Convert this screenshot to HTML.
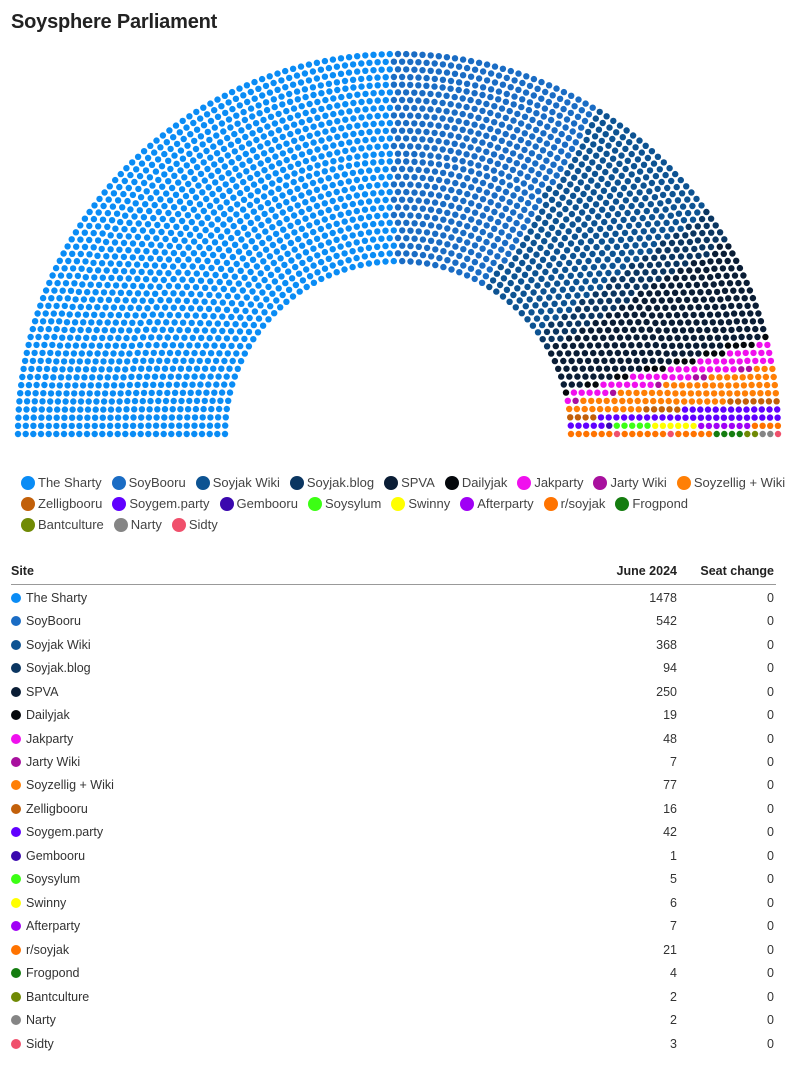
<!DOCTYPE html>
<html><head><meta charset="utf-8"><style>
body{margin:0;background:#fff;font-family:"Liberation Sans",sans-serif;color:#333;width:796px;height:1065px;overflow:hidden;position:relative}
h1{position:absolute;left:11px;top:11px;margin:0;font-size:20px;font-weight:bold;color:#222;letter-spacing:-0.2px}
#ch{position:absolute;left:0;top:0}
.lg{position:absolute;left:21px;top:472px;width:775px;font-size:13px;color:#444}
.lg div{display:flex;height:21px;align-items:center}
.lg span{display:flex;align-items:center;margin-right:10px;height:18px;white-space:nowrap}
.lg i{display:inline-block;width:14px;height:14px;border-radius:50%;margin-right:3px}
table{position:absolute;left:11px;top:563px;width:765px;border-collapse:collapse;font-size:12.5px;color:#333}
th{font-weight:bold;text-align:left;padding:0 2px 5px 0;border-bottom:1px solid #999;height:16px;color:#222}
td{height:21.47px;padding:2px 2px 0 0;box-sizing:content-box}
.r{text-align:right}
td i{display:inline-block;width:10px;height:10px;border-radius:50%;margin-right:5px;vertical-align:-1px}
</style></head><body>
<h1>Soysphere Parliament</h1>
<svg id="ch" width="796" height="460"></svg>
<div class="lg" id="lg"></div>
<table id="tb"><tr><th>Site</th><th class="r" style="width:120px">June 2024</th><th class="r" style="width:95px">Seat change</th></tr></table>
<script>
var P=[["The Sharty",1478,"#0a8cf5"],["SoyBooru",542,"#1a6cc4"],["Soyjak Wiki",368,"#0d5392"],["Soyjak.blog",94,"#0b3661"],["SPVA",250,"#0a1d35"],["Dailyjak",19,"#05080c"],["Jakparty",48,"#f010ee"],["Jarty Wiki",7,"#a8109e"],["Soyzellig + Wiki",77,"#ff7f05"],["Zelligbooru",16,"#c2600a"],["Soygem.party",42,"#6000ff"],["Gembooru",1,"#3a08ae"],["Soysylum",5,"#3cff14"],["Swinny",6,"#ffff00"],["Afterparty",7,"#a000f5"],["r/soyjak",21,"#ff7300"],["Frogpond",4,"#157d10"],["Bantculture",2,"#708a05"],["Narty",2,"#858585"],["Sidty",3,"#f0506c"]];
var total=0;P.forEach(p=>total+=p[1]);
var cx=398,cy=434,r0=173,r1=380,N=28,rs=[],sum=0;
for(var i=0;i<N;i++){rs.push(r0+i*(r1-r0)/(N-1));sum+=rs[i];}
var cnt=rs.map(r=>Math.floor(total*r/sum)),c=0;cnt.forEach(x=>c+=x);
for(var i=N-1;c<total;i--,c++)cnt[i]++;
var pts=[];
for(var i=0;i<N;i++){var n=cnt[i];for(var j=0;j<n;j++){var a=Math.PI-j*Math.PI/(n-1);pts.push([a,rs[i]]);}}
pts.sort((a,b)=>b[0]-a[0]||a[1]-b[1]);
var s="",k=0;
P.forEach(p=>{for(var j=0;j<p[1];j++,k++){var q=pts[k];s+='<circle cx="'+(cx+q[1]*Math.cos(q[0])).toFixed(1)+'" cy="'+(cy-q[1]*Math.sin(q[0])).toFixed(1)+'" r="3.2" fill="'+p[2]+'"/>';}});
document.getElementById("ch").innerHTML=s;
var rows=[[0,9],[9,17],[17,20]],l="",t="";
rows.forEach(rw=>{l+='<div>';for(var i=rw[0];i<rw[1];i++){var p=P[i];l+='<span><i style="background:'+p[2]+'"></i>'+p[0]+'</span>';}l+='</div>';});
P.forEach(p=>{t+='<tr><td><i style="background:'+p[2]+'"></i>'+p[0]+'</td><td class="r">'+p[1]+'</td><td class="r">0</td></tr>';});
document.getElementById("lg").innerHTML=l;
document.getElementById("tb").innerHTML+=t;
</script>
</body></html>
